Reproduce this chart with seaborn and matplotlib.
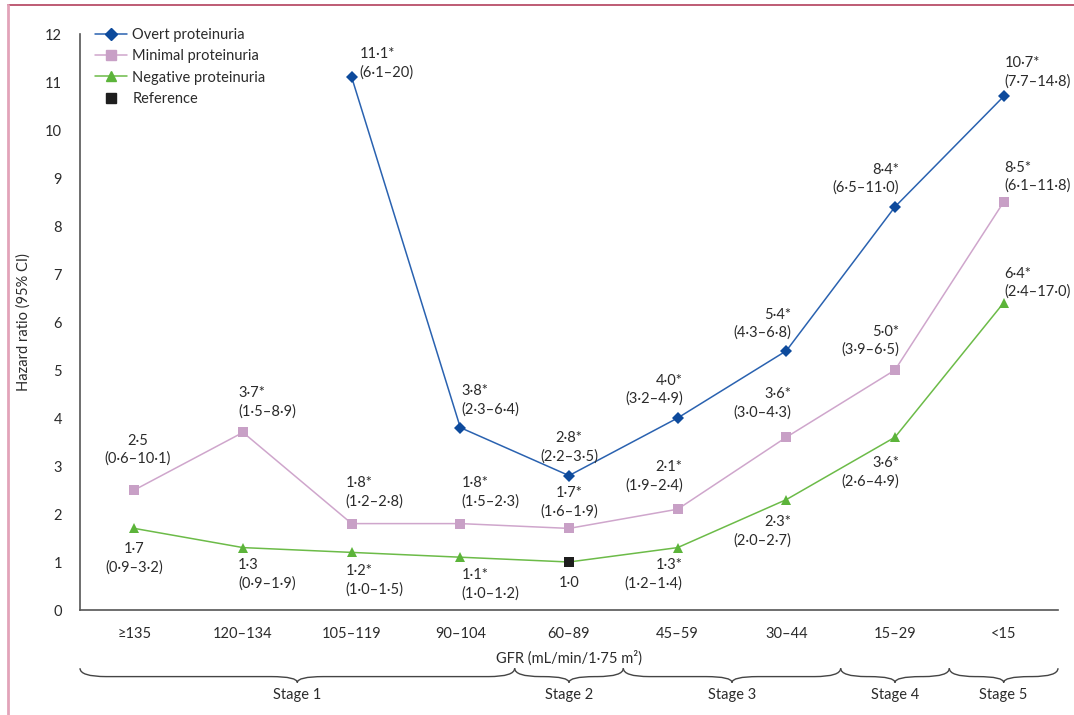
import numpy as np
import pandas as pd
import matplotlib
matplotlib.use("Agg")
import matplotlib.pyplot as plt
import matplotlib.transforms as mtransforms
from matplotlib.lines import Line2D
from matplotlib.path import Path
from matplotlib.patches import PathPatch
import seaborn as sns

# ── Data ─────────────────────────────────────
gfr_bands = ["≥135", "120–134", "105–119", "90–104", "60–89",
             "45–59", "30–44", "15–29", "<15"]
overt_hr = [np.nan, np.nan, 11.1, 3.8, 2.8, 4.0, 5.4, 8.4, 10.7]
minimal_hr = [2.5, 3.7, 1.8, 1.8, 1.7, 2.1, 3.6, 5.0, 8.5]
negative_hr = [1.7, 1.3, 1.2, 1.1, 1.0, 1.3, 2.3, 3.6, 6.4]
ref_index = 4  # negative proteinuria, 60-89 is the reference group

overt_lbl = [None, None, "11·1*\n(6·1–20)", "3·8*\n(2·3–6·4)", "2·8*\n(2·2–3·5)",
             "4·0*\n(3·2–4·9)", "5·4*\n(4·3–6·8)", "8·4*\n(6·5–11·0)",
             "10·7*\n(7·7–14·8)"]
minimal_lbl = ["2·5\n(0·6–10·1)", "3·7*\n(1·5–8·9)", "1·8*\n(1·2–2·8)",
               "1·8*\n(1·5–2·3)", "1·7*\n(1·6–1·9)", "2·1*\n(1·9–2·4)",
               "3·6*\n(3·0–4·3)", "5·0*\n(3·9–6·5)", "8·5*\n(6·1–11·8)"]
negative_lbl = ["1·7\n(0·9–3·2)", "1·3\n(0·9–1·9)", "1·2*\n(1·0–1·5)",
                "1·1*\n(1·0–1·2)", "1·0", "1·3*\n(1·2–1·4)", "2·3*\n(2·0–2·7)",
                "3·6*\n(2·6–4·9)", "6·4*\n(2·4–17·0)"]

stages = ["Stage 1", "Stage 2", "Stage 3", "Stage 4", "Stage 5"]
stage_bands = [4, 1, 2, 1, 1]

# ── Label placement (pixel offset from point, alignment) ──
overt_pos = [None, None, (8, 14, "left"), (1, 27, "left"), (0, 28, "center"),
             (5, 28, "right"), (5, 27, "right"), (4, 28, "right"), (1, 24, "left")]
minimal_pos = [(3, 40, "center"), (-5, 30, "left"), (-6, 31, "left"), (1, 31, "left"),
               (0, 26, "center"), (5, 33, "right"), (5, 34, "right"), (4, 29, "right"),
               (1, 25, "left")]
negative_pos = [(0, -30, "center"), (-5, -27, "left"), (-6, -28, "left"), (1, -27, "left"),
                (0, -21, "center"), (5, -27, "right"), (5, -32, "right"), (4, -35, "right"),
                (1, 20, "left")]

# ── Style ────────────────────────────────────
sns.set_style("white")
plt.rcParams["font.family"] = ["Lato", "DejaVu Sans"]
txt_col = "#2b2b2b"
c_overt, c_overt_m = "#2a62b0", "#0d4a9c"
c_min, c_min_m = "#cfa6cc", "#c8a0c6"
c_neg, c_neg_m = "#6cbb48", "#5cb43a"
fs = 10.5

fig = plt.figure(figsize=(10.74, 7.15), dpi=100)
ax = fig.add_axes([80 / 1074, 105 / 715, 978 / 1074, 600 / 715])

x = np.arange(len(gfr_bands))
df = pd.DataFrame({"band": x, "overt": overt_hr,
                   "minimal": minimal_hr, "negative": negative_hr})

sns.lineplot(data=df, x="band", y="overt", ax=ax, color=c_overt, lw=1.1,
             marker="D", ms=6.5, markerfacecolor=c_overt_m,
             markeredgecolor=c_overt_m, markeredgewidth=0, errorbar=None)
sns.lineplot(data=df, x="band", y="minimal", ax=ax, color=c_min, lw=1.1,
             marker="s", ms=7.5, markerfacecolor=c_min_m,
             markeredgecolor=c_min_m, markeredgewidth=0, errorbar=None)
sns.lineplot(data=df, x="band", y="negative", ax=ax, color=c_neg, lw=1.1,
             marker="^", ms=7.5, markerfacecolor=c_neg_m,
             markeredgecolor=c_neg_m, markeredgewidth=0, errorbar=None,
             markevery=[i for i in range(len(x)) if i != ref_index])
sns.scatterplot(x=[x[ref_index]], y=[negative_hr[ref_index]], ax=ax,
                marker="s", s=60, color="#1e1e1e", edgecolor="none", zorder=5)

# value labels
for vals, lbls, pos in [(overt_hr, overt_lbl, overt_pos),
                        (minimal_hr, minimal_lbl, minimal_pos),
                        (negative_hr, negative_lbl, negative_pos)]:
    for i, (v, t, p) in enumerate(zip(vals, lbls, pos)):
        if t is None:
            continue
        ax.annotate(t, xy=(x[i], v), xytext=(p[0], p[1]), textcoords="offset pixels",
                    ha=p[2], va="center", multialignment=p[2], fontsize=fs,
                    color=txt_col, linespacing=1.35)

# axes
ax.set_xlim(-0.5, len(gfr_bands) - 0.5)
ax.set_ylim(0, 12.5)
ax.set_yticks(range(0, 13))
ax.set_xticks(np.arange(-0.5, len(gfr_bands)))
ax.set_xticklabels([])
ax.set_xticks(x, minor=True)
ax.set_xticklabels(gfr_bands, minor=True)
ax.tick_params(axis="x", which="major", direction="out", length=7, width=1.2,
               color="#555555")
ax.tick_params(axis="x", which="minor", length=0, pad=12, labelsize=fs,
               labelcolor=txt_col)
ax.tick_params(axis="y", direction="out", length=6, width=1.2, color="#555555",
               pad=7, labelsize=fs, labelcolor=txt_col)
sns.despine(ax=ax)
for s in ["left", "bottom"]:
    ax.spines[s].set_color("#555555")
    ax.spines[s].set_linewidth(1.2)
ax.spines["left"].set_bounds(0, 12)

ax.set_ylabel("Hazard ratio (95% CI)", fontsize=fs, color=txt_col)
ax.yaxis.set_label_coords(-0.050, 0.48)
ax.set_xlabel("GFR (mL/min/1·75 m²)", fontsize=fs, color=txt_col)
ax.xaxis.set_label_coords(0.5, -0.067)

# legend
handles = [
    Line2D([], [], color=c_overt, lw=1.1, marker="D", ms=6.5, mfc=c_overt_m, mec=c_overt_m),
    Line2D([], [], color=c_min, lw=1.1, marker="s", ms=7.5, mfc=c_min_m, mec=c_min_m),
    Line2D([], [], color=c_neg, lw=1.1, marker="^", ms=7.5, mfc=c_neg_m, mec=c_neg_m),
    Line2D([], [], color="none", marker="s", ms=7, mfc="#1e1e1e", mec="#1e1e1e"),
]
leg = ax.legend(handles, ["Overt proteinuria", "Minimal proteinuria",
                          "Negative proteinuria", "Reference"],
                loc="upper left", bbox_to_anchor=(0.0153, 0.97), frameon=False,
                borderpad=0, borderaxespad=0, handlelength=2.2, handletextpad=0.35,
                labelspacing=0.5, fontsize=fs)
for t in leg.get_texts():
    t.set_color(txt_col)

# stage braces under the axis
trans = mtransforms.blended_transform_factory(ax.transData, ax.transAxes)
y_top, y_mid, y_tip = -0.097, -0.111, -0.121
r = 0.24
start = -0.5
for name, n in zip(stages, stage_bands):
    x0, x1 = start, start + n
    xc = (x0 + x1) / 2
    verts = [(x0, y_top), (x0, y_mid), (x0 + r, y_mid), (xc - r, y_mid),
             (xc, y_mid), (xc, y_tip), (xc, y_mid), (xc + r, y_mid),
             (x1 - r, y_mid), (x1, y_mid), (x1, y_top)]
    codes = [Path.MOVETO, Path.CURVE3, Path.CURVE3, Path.LINETO,
             Path.CURVE3, Path.CURVE3, Path.CURVE3, Path.CURVE3,
             Path.LINETO, Path.CURVE3, Path.CURVE3]
    ax.add_patch(PathPatch(Path(verts, codes), transform=trans, fill=False,
                           lw=1.0, edgecolor="#444444", clip_on=False))
    ax.text(xc, -0.142, name, transform=trans, ha="center", va="center",
            fontsize=fs, color=txt_col)
    start = x1

# page border lines
fig.add_artist(Line2D([8 / 1074, 1], [1 - 5 / 715, 1 - 5 / 715],
                      transform=fig.transFigure, color="#b3405c", lw=1.2))
fig.add_artist(Line2D([8 / 1074, 8 / 1074], [0, 1 - 5 / 715],
                      transform=fig.transFigure, color="#e2a3b9", lw=2))

fig.savefig("out.png", dpi=100)
